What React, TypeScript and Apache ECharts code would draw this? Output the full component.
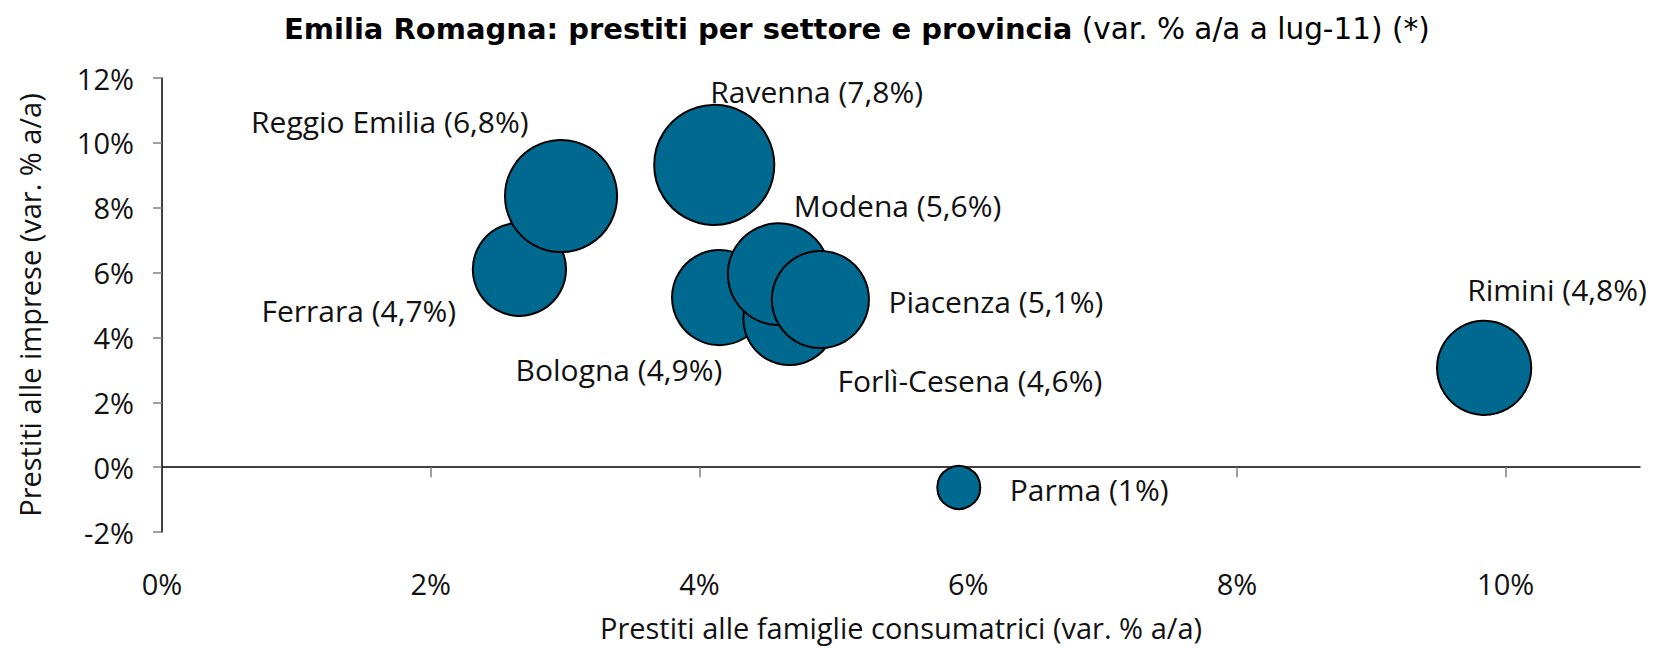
import React, { useEffect, useRef } from 'react';
import * as echarts from 'echarts';

// ---- data ----
const provinces = ['Ferrara', 'Reggio Emilia', 'Ravenna', 'Bologna', 'Forlì-Cesena', 'Modena', 'Piacenza', 'Rimini', 'Parma'];
// Prestiti alle famiglie consumatrici (var. % a/a)
const famiglie = [2.66, 2.97, 4.11, 4.15, 4.67, 4.59, 4.9, 9.84, 5.93];
// Prestiti alle imprese (var. % a/a)
const imprese = [6.1, 8.36, 9.32, 5.23, 4.57, 5.95, 5.17, 3.06, -0.63];
// Totale prestiti (var. % a/a) -> bubble size and label
const totale = [4.7, 6.8, 7.8, 4.9, 4.6, 5.6, 5.1, 4.8, 1];
const xLabelValues = [0, 2, 4, 6, 8, 10];
const xTickValues = [2, 4, 6, 8, 10];

// ---- layout (label offsets from bubble centre, px) ----
const labelOffsets: number[][] = [
  [-258, 41],
  [-310, -75],
  [-4, -73],
  [-204, 72],
  [48, 62],
  [15, -69],
  [68, 2],
  [-17, -78],
  [51, 2],
];

const LABEL_FONT = "'Open Sans', 'Noto Sans', sans-serif";
const TITLE_FONT = "'DejaVu Sans', sans-serif";

export default function App() {
  const ref = useRef<HTMLDivElement>(null);

  useEffect(() => {
    document.body.style.margin = '0';
    const chart = echarts.init(ref.current as HTMLDivElement, null, { renderer: 'svg' });

    const data = provinces.map((name, i) => ({
      name,
      value: [famiglie[i], imprese[i], totale[i]],
    }));

    const option: any = {
      animation: false,
      backgroundColor: '#ffffff',
      title: {
        text: '{b|Emilia Romagna: prestiti per settore e provincia}{r| (var. % a/a a lug-11) (*)}',
        left: 279,
        top: 6,
        textStyle: {
          rich: {
            b: { fontFamily: TITLE_FONT, fontWeight: 'bold', fontSize: 29, color: '#000', lineHeight: 36 },
            r: { fontFamily: TITLE_FONT, fontWeight: 'normal', fontSize: 29.5, color: '#000', lineHeight: 36 },
          },
        },
      },
      grid: { left: 162, right: 24, top: 78, bottom: 116, containLabel: false, outerBoundsMode: 'none' },
      xAxis: [
        {
          type: 'value',
          min: 0,
          max: 11,
          interval: 2,
          position: 'bottom',
          axisLine: { show: false, onZero: false },
          axisTick: { show: false },
          splitLine: { show: false },
          axisLabel: {
            show: true,
            customValues: xLabelValues,
            margin: 37,
            formatter: (v: number) => (v > 10 ? '' : `${v}%`),
            fontFamily: LABEL_FONT,
            fontSize: 29,
            color: '#111',
          },
          name: 'Prestiti alle famiglie consumatrici (var. % a/a)',
          nameLocation: 'middle',
          nameGap: 81,
          nameTextStyle: { fontFamily: LABEL_FONT, fontSize: 29, color: '#111' },
        },
        {
          type: 'value',
          min: 0,
          max: 11,
          interval: 2,
          position: 'bottom',
          axisLine: { show: true, onZero: true, lineStyle: { color: '#000', width: 1.5 } },
          axisTick: {
            show: true,
            inside: false,
            length: 10,
            customValues: xTickValues,
            lineStyle: { color: '#808080', width: 1.5 },
          },
          axisLabel: { show: false },
          splitLine: { show: false },
        },
      ],
      yAxis: {
        type: 'value',
        min: -2,
        max: 12,
        interval: 2,
        axisLine: { show: true, onZero: false, lineStyle: { color: '#000', width: 1.5 } },
        axisTick: { show: true, inside: false, length: 9, lineStyle: { color: '#808080', width: 1.5 } },
        splitLine: { show: false },
        axisLabel: {
          margin: 28,
          formatter: (v: number) => `${v}%`,
          fontFamily: LABEL_FONT,
          fontSize: 29,
          color: '#111',
        },
        name: 'Prestiti alle imprese (var. % a/a)',
        nameLocation: 'middle',
        nameGap: 118,
        nameRotate: 90,
        nameTextStyle: { fontFamily: LABEL_FONT, fontSize: 29, color: '#111' },
      },
      series: [
        {
          type: 'scatter',
          xAxisIndex: 0,
          yAxisIndex: 0,
          data,
          symbol: 'circle',
          symbolSize: (v: number[]) => 43 * Math.sqrt(v[2]),
          itemStyle: { color: '#00698F', borderColor: '#000', borderWidth: 2, opacity: 1 },
          emphasis: { disabled: true },
          label: {
            show: true,
            position: 'inside',
            align: 'left',
            verticalAlign: 'middle',
            fontFamily: LABEL_FONT,
            fontSize: 30,
            color: '#111',
            formatter: (p: any) => `${p.name} (${String(p.value[2]).replace('.', ',')}%)`,
          },
          labelLayout: (params: any) => ({
            dx: labelOffsets[params.dataIndex][0],
            dy: labelOffsets[params.dataIndex][1],
            hideOverlap: false,
          }),
        },
      ],
    };

    chart.setOption(option);
    return () => chart.dispose();
  }, []);

  return <div ref={ref} style={{ width: 1664, height: 648 }} />;
}
